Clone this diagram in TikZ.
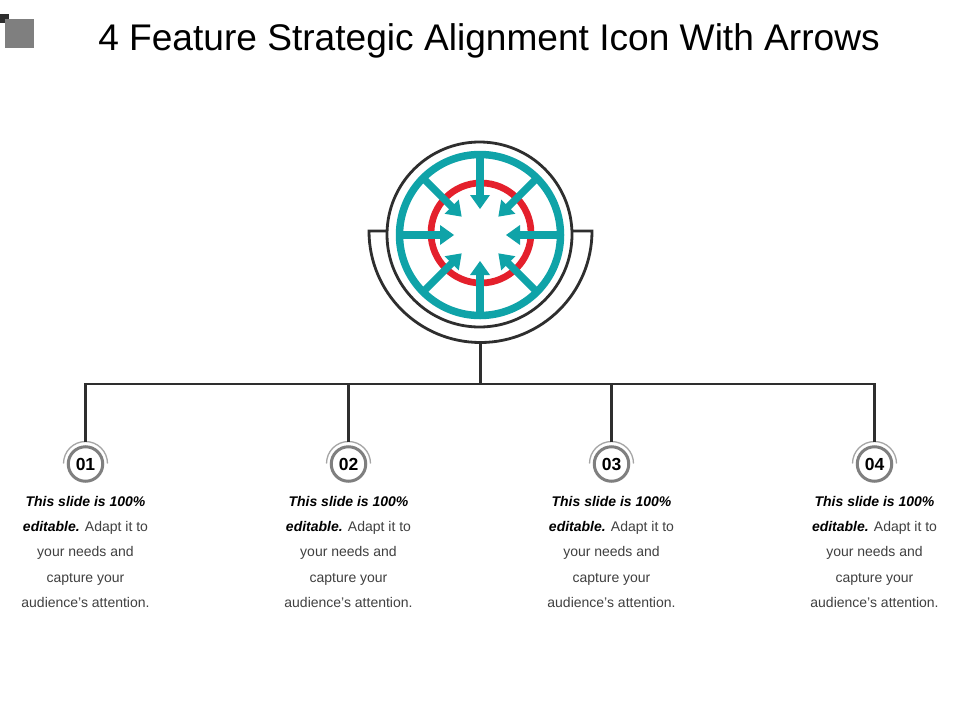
\documentclass[tikz,border=0pt]{standalone}
\usepackage{fontspec}
\setmainfont{Liberation Sans}
\definecolor{tealc}{HTML}{0FA3A8}
\definecolor{redc}{HTML}{E4202C}
\definecolor{darkc}{HTML}{2E2E2E}
\definecolor{ringc}{HTML}{7F7F7F}
\definecolor{bodyc}{HTML}{404040}
\tikzset{
  blackline/.style={draw=darkc,line width=2.8pt},
  badgebox/.style={circle,draw=ringc,line width=3pt,fill=white,minimum size=34.5pt,inner sep=0pt,font=\fontsize{17.5}{20}\selectfont\bfseries,text=black},
  capline/.style={draw=ringc!70,line width=1.3pt},
  bodytext/.style={align=center,font=\fontsize{14}{25.3}\selectfont,text=bodyc,anchor=north,inner sep=0pt},
  titletext/.style={font=\fontsize{37.1}{40}\selectfont,text=black,inner sep=0pt}
}
\newcommand{\leadrun}[1]{{\bfseries\itshape\color{black}#1}}
\begin{document}
\begin{tikzpicture}[x=1pt,y=-1pt]
\useasboundingbox (0,0) rectangle (960,720);
\fill[white] (0,0) rectangle (960,720);
% corner marks
\fill[darkc] (0,14) rectangle (9,23);
\fill[ringc] (5,19) rectangle (34,48);
% title
\node[titletext] (title) at (489,41) {4 Feature Strategic Alignment Icon With Arrows};
% icon
\coordinate (c) at (480,235);
\coordinate (rc) at (481,233);
\coordinate (cupl) at (369,231);
\coordinate (cupr) at (592,231);
\coordinate (cupb) at (480.5,342.5);
\draw[blackline] (387,231) -- (cupl) arc[start angle=180,end angle=0,radius=111.5] -- (573,231);
\draw[blackline] (479.5,234.5) circle[radius=92.5];
\draw[redc,line width=6.7pt] (rc) circle[radius=50];
\draw[tealc,line width=7.5pt] (c) circle[radius=80.5];
\foreach \a in {0,45,...,315}{
  \begin{scope}[shift={(480,235)},rotate=\a]
    \fill[tealc] (-3.6,-80) -- (3.6,-80) -- (3.6,-37) -- (-3.6,-37) -- cycle;
    \fill[tealc] (-10,-40) -- (10,-40) -- (0,-26) -- cycle;
  \end{scope}
}
% tree
\coordinate (bus0) at (480.5,384);
\coordinate (busl) at (85.5,384);
\coordinate (busr) at (874.5,384);
\draw[blackline] (cupb) -- (bus0);
\draw[blackline,line cap=rect] (busl) -- (busr);
\foreach \px/\nm/\lab in {85.5/a/01,348.5/b/02,611.5/c/03,874.5/d/04}{
  \coordinate (top\nm) at (\px,384);
  \coordinate (cap\nm) at (\px,441.5);
  \draw[capline] ({\px-22},463.5) arc[start angle=180,end angle=360,radius=22];
  \node[badgebox] (badge\nm) at (\px,464) {\lab};
  \draw[blackline] (top\nm) -- (cap\nm);
  \node[bodytext] (text\nm) at (\px,496) {\leadrun{This slide is 100\%}\\ \leadrun{editable.} Adapt it to\\ your needs and\\ capture your\\ audience’s attention.};
}
\end{tikzpicture}
\end{document}
